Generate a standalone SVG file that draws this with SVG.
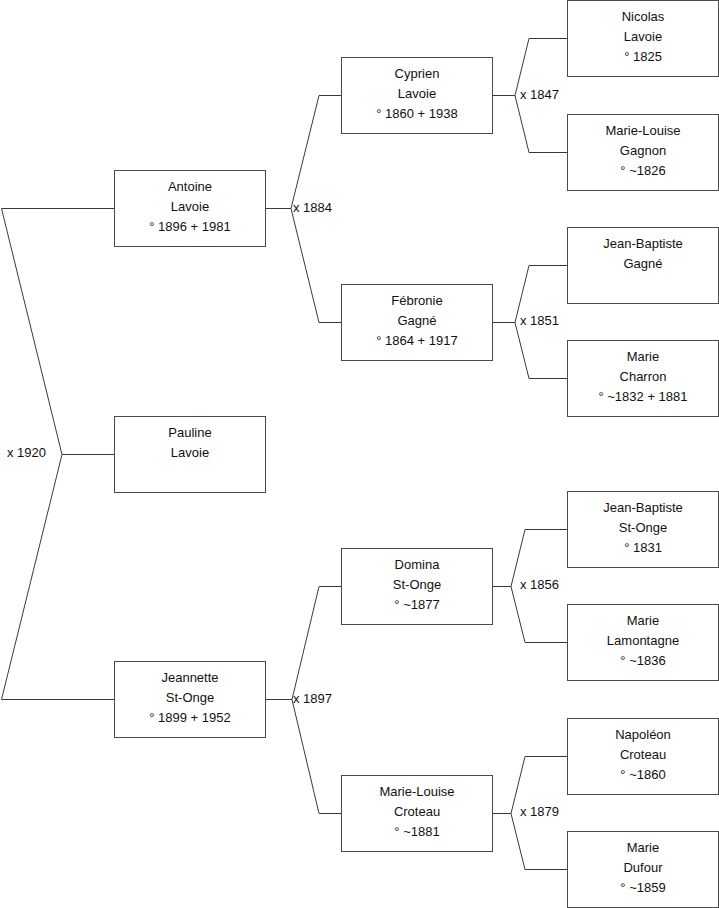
<svg xmlns="http://www.w3.org/2000/svg" width="719" height="908" viewBox="0 0 719 908">
<style>
rect.box{fill:#fff;stroke:#4a4a4a;stroke-width:1}
text{font-family:"Liberation Sans",Arial,sans-serif;font-size:13px;fill:#111}
text.n{text-anchor:middle}
#connectors path{fill:none;stroke:#3a3a3a;stroke-width:1}
</style>
<rect width="719" height="908" fill="#fff"/>
<g id="connectors">
<path d="M114,208.5H1.5L62,454.5L1.5,699.5H114M62,454.5H114"/>
<path d="M265,208.5H291L319,95.5H341M291,208.5L319,322.5H341"/>
<path d="M265,699.5H292L319,586.5H341M292,699.5L319,813.5H341"/>
<path d="M492,95.5H515L529,38.5H567M515,95.5L529,152.5H567"/>
<path d="M492,322.5H515L529,265.5H567M515,322.5L529,378.5H567"/>
<path d="M492,586.5H511L525,529.5H567M511,586.5L525,642.5H567"/>
<path d="M492,813.5H511L525,756.5H567M511,813.5L525,869.5H567"/>
<text x="7" y="457">x 1920</text>
<text x="293" y="212">x 1884</text>
<text x="293" y="703">x 1897</text>
<text x="520" y="99">x 1847</text>
<text x="520" y="325">x 1851</text>
<text x="520" y="589">x 1856</text>
<text x="520" y="816">x 1879</text>
</g>
<g id="antoine"><rect class="box" x="114.5" y="170.5" width="151" height="76"/><text class="n" x="190" y="191">Antoine</text><text class="n" x="190" y="211">Lavoie</text><text class="n" x="190" y="231">° 1896 + 1981</text></g>
<g id="pauline"><rect class="box" x="114.5" y="416.5" width="151" height="76"/><text class="n" x="190" y="437">Pauline</text><text class="n" x="190" y="457">Lavoie</text></g>
<g id="jeannette"><rect class="box" x="114.5" y="661.5" width="151" height="76"/><text class="n" x="190" y="682">Jeannette</text><text class="n" x="190" y="702">St-Onge</text><text class="n" x="190" y="722">° 1899 + 1952</text></g>
<g id="cyprien"><rect class="box" x="341.5" y="57.5" width="151" height="76"/><text class="n" x="417" y="78">Cyprien</text><text class="n" x="417" y="98">Lavoie</text><text class="n" x="417" y="118">° 1860 + 1938</text></g>
<g id="febronie"><rect class="box" x="341.5" y="284.5" width="151" height="76"/><text class="n" x="417" y="305">Fébronie</text><text class="n" x="417" y="325">Gagné</text><text class="n" x="417" y="345">° 1864 + 1917</text></g>
<g id="domina"><rect class="box" x="341.5" y="548.5" width="151" height="76"/><text class="n" x="417" y="569">Domina</text><text class="n" x="417" y="589">St-Onge</text><text class="n" x="417" y="609">° ~1877</text></g>
<g id="marie-louise-croteau"><rect class="box" x="341.5" y="775.5" width="151" height="76"/><text class="n" x="417" y="796">Marie-Louise</text><text class="n" x="417" y="816">Croteau</text><text class="n" x="417" y="836">° ~1881</text></g>
<g id="nicolas"><rect class="box" x="567.5" y="0.5" width="151" height="76"/><text class="n" x="643" y="21">Nicolas</text><text class="n" x="643" y="41">Lavoie</text><text class="n" x="643" y="61">° 1825</text></g>
<g id="marie-louise-gagnon"><rect class="box" x="567.5" y="114.5" width="151" height="76"/><text class="n" x="643" y="135">Marie-Louise</text><text class="n" x="643" y="155">Gagnon</text><text class="n" x="643" y="175">° ~1826</text></g>
<g id="jean-baptiste-gagne"><rect class="box" x="567.5" y="227.5" width="151" height="76"/><text class="n" x="643" y="248">Jean-Baptiste</text><text class="n" x="643" y="268">Gagné</text></g>
<g id="marie-charron"><rect class="box" x="567.5" y="340.5" width="151" height="76"/><text class="n" x="643" y="361">Marie</text><text class="n" x="643" y="381">Charron</text><text class="n" x="643" y="401">° ~1832 + 1881</text></g>
<g id="jean-baptiste-st-onge"><rect class="box" x="567.5" y="491.5" width="151" height="76"/><text class="n" x="643" y="512">Jean-Baptiste</text><text class="n" x="643" y="532">St-Onge</text><text class="n" x="643" y="552">° 1831</text></g>
<g id="marie-lamontagne"><rect class="box" x="567.5" y="604.5" width="151" height="76"/><text class="n" x="643" y="625">Marie</text><text class="n" x="643" y="645">Lamontagne</text><text class="n" x="643" y="665">° ~1836</text></g>
<g id="napoleon"><rect class="box" x="567.5" y="718.5" width="151" height="76"/><text class="n" x="643" y="739">Napoléon</text><text class="n" x="643" y="759">Croteau</text><text class="n" x="643" y="779">° ~1860</text></g>
<g id="marie-dufour"><rect class="box" x="567.5" y="831.5" width="151" height="76"/><text class="n" x="643" y="852">Marie</text><text class="n" x="643" y="872">Dufour</text><text class="n" x="643" y="892">° ~1859</text></g>
</svg>
